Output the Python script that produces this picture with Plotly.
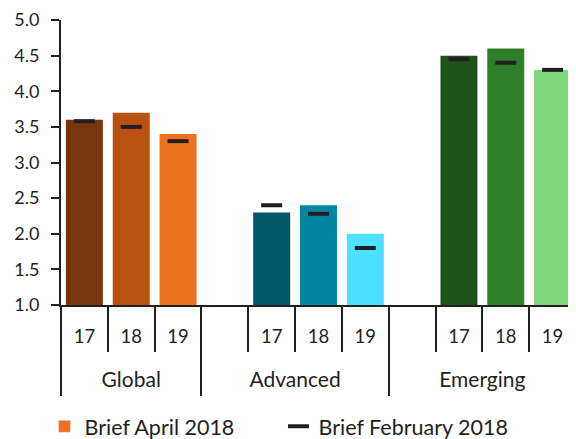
import plotly.graph_objects as go

regions = ["Global", "Advanced", "Emerging"]
years = ["17", "18", "19"]

# April 2018 brief (bars)
april = {
    "Global": [3.6, 3.7, 3.4],
    "Advanced": [2.3, 2.4, 2.0],
    "Emerging": [4.5, 4.6, 4.3],
}
# February 2018 brief (dashes)
february = {
    "Global": [3.58, 3.5, 3.3],
    "Advanced": [2.4, 2.28, 1.8],
    "Emerging": [4.45, 4.4, 4.3],
}
colors = {
    "Global": ["#7B350C", "#B95211", "#ED701F"],
    "Advanced": ["#02576A", "#0085A3", "#4EE0FF"],
    "Emerging": ["#1E531C", "#2D7F2A", "#7DD67A"],
}

ink = "#231F20"
font = "Lato"

# category slots: Advanced and Emerging start with an empty slot
slots, slot_text = [], []
for i, r in enumerate(regions):
    if i > 0:
        slots.append(r + " gap")
        slot_text.append("")
    for yr in years:
        slots.append(r + " " + yr)
        slot_text.append(yr)

bar_x, bar_y, dash_y, bar_c = [], [], [], []
for r in regions:
    for j, yr in enumerate(years):
        bar_x.append(r + " " + yr)
        bar_y.append(april[r][j])
        dash_y.append(february[r][j])
        bar_c.append(colors[r][j])

# group spans (in slot units) for the second label row
grp_mid, grp_edges = [], [-0.5]
for r in regions:
    idx = [k for k, s in enumerate(slots) if s.startswith(r + " ")]
    grp_mid.append((idx[0] + idx[-1]) / 2)
    grp_edges.append(idx[-1] + 0.5)

xr = [-0.5, len(slots) - 0.5]

fig = go.Figure()
fig.add_trace(go.Bar(
    x=bar_x, y=bar_y, marker=dict(color=bar_c, line=dict(width=0)),
    showlegend=False, hoverinfo="skip",
))
# legend-only swatch for the bars
fig.add_trace(go.Bar(
    x=[None], y=[None], name="Brief April 2018",
    marker=dict(color="#ED701F"),
))
fig.add_trace(go.Scatter(
    x=bar_x, y=dash_y, mode="markers", name="Brief February 2018",
    marker=dict(symbol="line-ew", size=15, line=dict(width=4, color=ink), color=ink),
))
# empty trace so the group-label axis gets drawn
fig.add_trace(go.Scatter(
    x=grp_mid, y=[None] * len(grp_mid), xaxis="x2", mode="markers",
    showlegend=False, hoverinfo="skip",
))

fig.update_layout(
    width=568, height=431,
    margin=dict(l=53, r=0, t=12, b=134, autoexpand=False),
    plot_bgcolor="white", paper_bgcolor="white",
    font=dict(family=font, size=18, color=ink),
    bargap=0.21,
    legend=dict(
        orientation="h", x=-0.032, y=-0.354, yanchor="top",
        entrywidth=189, entrywidthmode="pixels",
        font=dict(size=21.5), itemwidth=30,
    ),
    xaxis=dict(
        automargin=False, range=xr,
        categoryorder="array", categoryarray=slots,
        tickmode="array", tickvals=slots, ticktext=slot_text,
        showline=True, linecolor=ink, linewidth=2,
        ticks="outside", tickson="boundaries", ticklen=45, tickwidth=2, tickcolor=ink,
        showgrid=False, zeroline=False,
        tickfont=dict(size=18.5),
        ticklabelstandoff=14,
    ),
    xaxis2=dict(
        automargin=False, range=xr, overlaying="x", anchor="y", side="bottom",
        tickmode="array", tickvals=grp_mid, ticktext=regions, ticks="",
        minor=dict(tickmode="array", tickvals=grp_edges, ticks="outside",
                   ticklen=90, tickwidth=2, tickcolor=ink),
        showline=False, showgrid=False, zeroline=False,
        tickfont=dict(size=21),
        ticklabelstandoff=60,
    ),
    yaxis=dict(
        automargin=False,
        range=[1, 5], tickvals=[1, 1.5, 2, 2.5, 3, 3.5, 4, 4.5, 5], tickformat=".1f",
        showline=True, linecolor=ink, linewidth=2,
        ticks="outside", ticklen=8, tickwidth=2, tickcolor=ink,
        showgrid=False, zeroline=False,
        tickfont=dict(size=18),
        ticklabelstandoff=8,
    ),
)

fig.write_html("out.html")
